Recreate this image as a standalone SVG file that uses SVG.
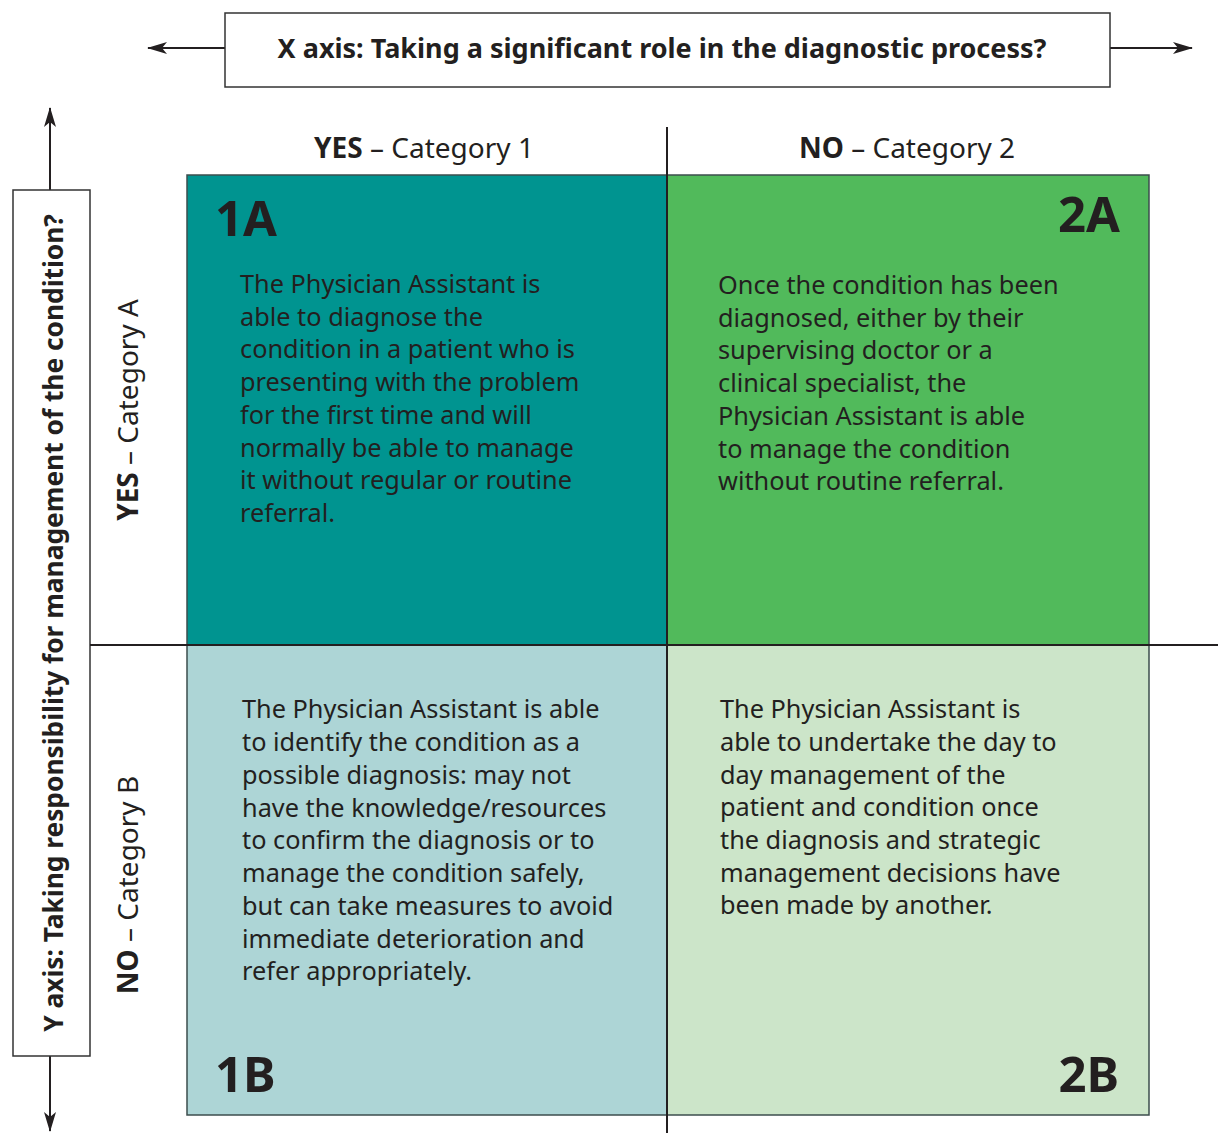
<svg xmlns="http://www.w3.org/2000/svg" width="1218" height="1133" viewBox="0 0 1218 1133">
<style>
text{font-family:"Noto Sans","Liberation Sans",sans-serif;fill:#231f20}
.b{font-size:25.3px}
.h{font-size:28px}
.big{font-size:49px;font-weight:bold}
.bold{font-weight:bold}
.ln{stroke:#231f20;stroke-width:2;fill:none}
.box{fill:#fff;stroke:#333;stroke-width:1.5}
.cell{stroke:#3d4d4d;stroke-width:1.5}
</style>
<defs>
<marker id="ah" viewBox="0 0 20 12" refX="19" refY="6" markerWidth="20" markerHeight="12" markerUnits="userSpaceOnUse" orient="auto">
<path d="M0,0 L20,6 L0,12 L5,6 Z" fill="#231f20"/>
</marker>
</defs>
<g id="connectors">
<line class="ln" x1="225" y1="48" x2="148" y2="48" marker-end="url(#ah)"/>
<line class="ln" x1="1110" y1="48" x2="1192" y2="48" marker-end="url(#ah)"/>
<line class="ln" x1="50" y1="190" x2="50" y2="108" marker-end="url(#ah)"/>
<line class="ln" x1="50" y1="1056" x2="50" y2="1131" marker-end="url(#ah)"/>
</g>
<g id="x-axis">
<rect class="box" x="225" y="13" width="885" height="74"/>
<text x="662" y="58" text-anchor="middle" class="bold" font-size="27">X axis: Taking a significant role in the diagnostic process?</text>
</g>
<g id="y-axis">
<rect class="box" x="13" y="190" width="77" height="866"/>
<text transform="translate(63,623) rotate(-90)" text-anchor="middle" class="bold" font-size="26.3">Y axis: Taking responsibility for management of the condition?</text>
</g>
<g id="cell-1A">
<rect class="cell" x="187" y="175" width="480" height="470" fill="#009490"/>
<text x="215" y="236" class="big">1A</text>
<text class="b" x="240">
<tspan x="240" y="293">The Physician Assistant is</tspan>
<tspan x="240" y="326">able to diagnose the</tspan>
<tspan x="240" y="358">condition in a patient who is</tspan>
<tspan x="240" y="391">presenting with the problem</tspan>
<tspan x="240" y="424">for the first time and will</tspan>
<tspan x="240" y="457">normally be able to manage</tspan>
<tspan x="240" y="489">it without regular or routine</tspan>
<tspan x="240" y="522">referral.</tspan>
</text>
</g>
<g id="cell-2A">
<rect class="cell" x="667" y="175" width="482" height="470" fill="#51ba5b"/>
<text x="1120" y="232" text-anchor="end" class="big">2A</text>
<text class="b">
<tspan x="718" y="294">Once the condition has been</tspan>
<tspan x="718" y="327">diagnosed, either by their</tspan>
<tspan x="718" y="359">supervising doctor or a</tspan>
<tspan x="718" y="392">clinical specialist, the</tspan>
<tspan x="718" y="425">Physician Assistant is able</tspan>
<tspan x="718" y="458">to manage the condition</tspan>
<tspan x="718" y="490">without routine referral.</tspan>
</text>
</g>
<g id="cell-1B">
<rect class="cell" x="187" y="645" width="480" height="470" fill="#add5d6"/>
<text x="215" y="1092" class="big">1B</text>
<text class="b">
<tspan x="242" y="718">The Physician Assistant is able</tspan>
<tspan x="242" y="751">to identify the condition as a</tspan>
<tspan x="242" y="784">possible diagnosis: may not</tspan>
<tspan x="242" y="817">have the knowledge/resources</tspan>
<tspan x="242" y="849">to confirm the diagnosis or to</tspan>
<tspan x="242" y="882">manage the condition safely,</tspan>
<tspan x="242" y="915">but can take measures to avoid</tspan>
<tspan x="242" y="948">immediate deterioration and</tspan>
<tspan x="242" y="980">refer appropriately.</tspan>
</text>
</g>
<g id="cell-2B">
<rect class="cell" x="667" y="645" width="482" height="470" fill="#cce5c9"/>
<text x="1119" y="1092" text-anchor="end" class="big">2B</text>
<text class="b">
<tspan x="720" y="718">The Physician Assistant is</tspan>
<tspan x="720" y="751">able to undertake the day to</tspan>
<tspan x="720" y="784">day management of the</tspan>
<tspan x="720" y="816">patient and condition once</tspan>
<tspan x="720" y="849">the diagnosis and strategic</tspan>
<tspan x="720" y="882">management decisions have</tspan>
<tspan x="720" y="914">been made by another.</tspan>
</text>
</g>
<g id="dividers">
<line class="ln" x1="667" y1="127" x2="667" y2="1133"/>
<line class="ln" x1="90" y1="645" x2="1218" y2="645"/>
</g>
<g id="headers">
<text x="424" y="158" text-anchor="middle" class="h"><tspan class="bold">YES</tspan> – Category 1</text>
<text x="907" y="158" text-anchor="middle" class="h"><tspan class="bold">NO</tspan> – Category 2</text>
<text transform="translate(138,410) rotate(-90)" text-anchor="middle" class="h"><tspan class="bold">YES</tspan> – Category A</text>
<text transform="translate(138,885) rotate(-90)" text-anchor="middle" class="h"><tspan class="bold">NO</tspan> – Category B</text>
</g>
</svg>
